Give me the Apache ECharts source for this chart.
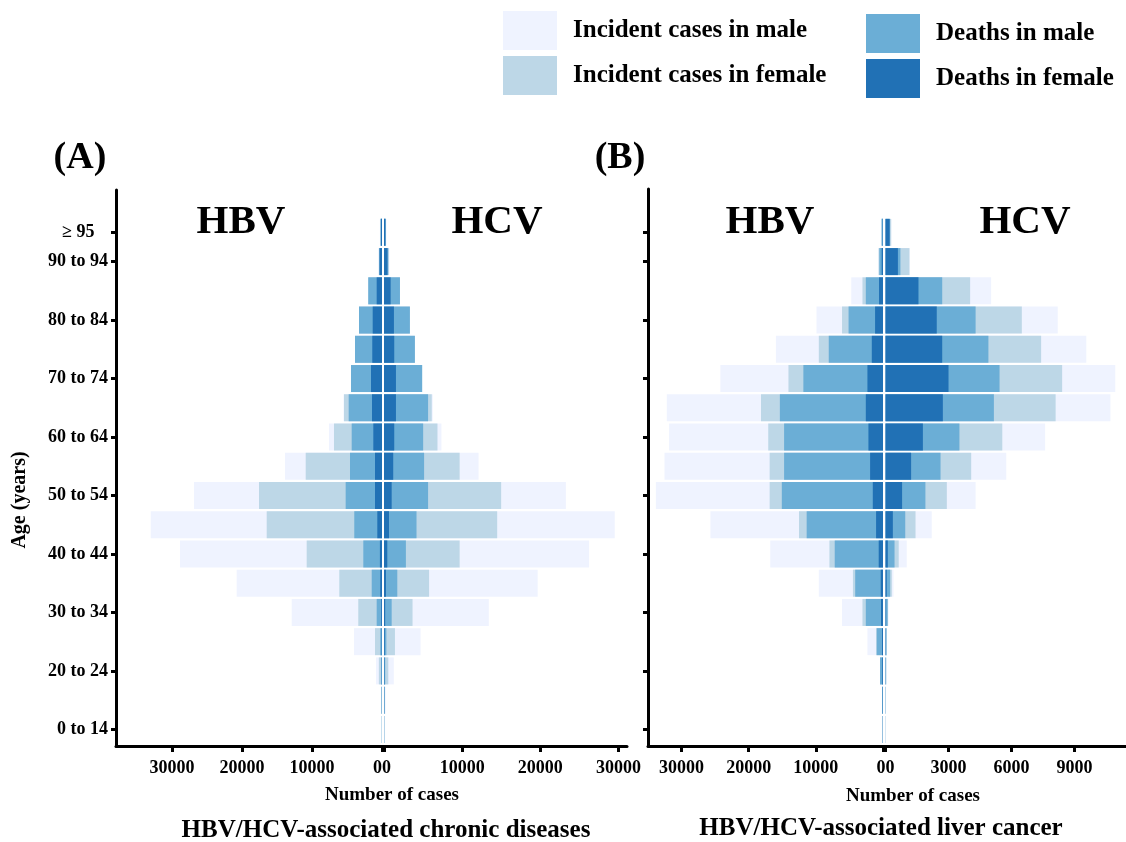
<!DOCTYPE html>
<html>
<head>
<meta charset="utf-8">
<script src="https://cdn.jsdelivr.net/npm/echarts@6/dist/echarts.min.js"></script>
<style>
html, body { margin: 0; padding: 0; background: #fff; }
#main { width: 1126px; height: 842px; }
</style>
</head>
<body>
<div id="main"></div>
<script>
// age groups, bottom to top (last one is an empty slot above the top bar)
var ages = ['0 to 14', '15 to 19', '20 to 24', '25 to 29', '30 to 34', '35 to 39', '40 to 44',
  '45 to 49', '50 to 54', '55 to 59', '60 to 64', '65 to 69', '70 to 74', '75 to 79',
  '80 to 84', '85 to 89', '90 to 94', '≥ 95', ''];

var names = ['Incident cases in male', 'Incident cases in female', 'Deaths in male', 'Deaths in female'];
var colors = ['#eff3ff', '#bdd7e7', '#6baed6', '#2171b5'];

// (A) chronic diseases, HBV (left side)
var chronicHbvIncMale   = [60, 150, 850, 4000, 12900, 20760, 28860, 33040, 26860, 13860, 7570, 5500, 4430, 3860, 3290, 1960, 500, 300];
var chronicHbvIncFemale = [40, 100, 450, 1000, 3390, 6100, 10760, 16470, 17570, 10900, 6860, 5430, 4430, 3860, 3290, 1960, 450, 250];
var chronicHbvDeaMale   = [20, 60, 120, 250, 760, 1470, 2670, 3960, 5190, 4570, 4330, 4760, 4430, 3860, 3290, 1960, 400, 200];
var chronicHbvDeaFemale = [10, 20, 40, 60, 120, 250, 300, 670, 1000, 1000, 1240, 1430, 1570, 1390, 1330, 760, 350, 150];

// (A) chronic diseases, HCV (right side)
var chronicHcvIncMale   = [80, 200, 1250, 4680, 13410, 19660, 26240, 29520, 23270, 12100, 7350, 6240, 4880, 3950, 3310, 2040, 700, 300];
var chronicHcvIncFemale = [50, 120, 550, 1400, 3650, 5770, 9680, 14480, 14990, 9680, 6840, 6110, 4880, 3950, 3310, 2040, 600, 260];
var chronicHcvDeaMale   = [30, 80, 150, 300, 980, 1700, 2800, 4160, 5640, 5130, 5010, 5640, 4880, 3950, 3310, 2040, 550, 220];
var chronicHcvDeaFemale = [10, 30, 60, 100, 150, 250, 420, 640, 980, 1180, 1310, 1530, 1530, 1310, 1270, 850, 450, 180];

// (B) liver cancer, HBV (left side)
var cancerHbvIncMale   = [100, 150, 450, 2320, 6100, 9560, 16790, 25700, 33830, 32540, 31860, 32200, 24220, 15950, 9900, 4730, 700, 250];
var cancerHbvIncFemale = [80, 130, 440, 1030, 3060, 4480, 7980, 12510, 16880, 16880, 17090, 18170, 14080, 9560, 6100, 3060, 650, 220];
var cancerHbvDeaMale   = [60, 120, 440, 930, 2560, 4140, 7190, 11370, 15070, 14730, 14730, 15360, 11860, 8080, 5130, 2560, 550, 200];
var cancerHbvDeaFemale = [20, 60, 120, 150, 300, 340, 640, 1030, 1520, 1920, 2170, 2560, 2320, 1670, 1180, 590, 200, 50];

// (B) liver cancer, HCV (right side)
var cancerHcvIncMale   = [10, 20, 40, 60, 150, 380, 1010, 2200, 4290, 5750, 7600, 10710, 10940, 9560, 8200, 5030, 1150, 280];
var cancerHcvIncFemale = [8, 15, 35, 55, 120, 300, 630, 1430, 2920, 4080, 5560, 8100, 8410, 7410, 6490, 4030, 1140, 270];
var cancerHcvDeaMale   = [6, 12, 30, 50, 100, 220, 430, 940, 1900, 2620, 3520, 5160, 5430, 4900, 4290, 2700, 710, 200];
var cancerHcvDeaFemale = [2, 4, 8, 15, 30, 60, 110, 350, 790, 1220, 1780, 2730, 3000, 2700, 2440, 1570, 590, 200];

// tick values
var ticksChronic = [0, 10000, 20000, 30000];
var ticksCancerHcv = [0, 3000, 6000, 9000];

var serif = '"Liberation Serif", "Times New Roman", serif';
var myChart = echarts.init(document.getElementById('main'), null, { renderer: 'canvas' });

function showAge(index) {
  return (index % 2 === 0 && index <= 16) || index === 17;
}

// backdrop grid: only draws the black axis lines
function lineAxes(idx) {
  return {
    x: { type: 'value', gridIndex: idx, min: 0, max: 1, axisLine: { show: true, lineStyle: { color: '#000', width: 3 } },
         axisTick: { show: false }, axisLabel: { show: false }, splitLine: { show: false } },
    y: { type: 'value', gridIndex: idx, min: 0, max: 1, axisLine: { show: true, lineStyle: { color: '#000', width: 3 } },
         axisTick: { show: false }, axisLabel: { show: false }, splitLine: { show: false } }
  };
}

function valueAxis(idx, inverse, max, ticks, labels, zeroText) {
  return {
    type: 'value', gridIndex: idx, inverse: inverse, min: 0, max: max, offset: 2, position: 'bottom',
    axisLine: { show: false, onZero: false },
    axisTick: { show: true, length: 6, customValues: ticks, lineStyle: { color: '#000', width: 3 } },
    axisLabel: {
      customValues: labels, margin: 13, color: '#000', fontFamily: serif, fontWeight: 'bold', fontSize: 18,
      formatter: function (v) { return v === 0 ? zeroText : String(v); }
    },
    splitLine: { show: false }
  };
}

function catAxis(idx, withTicks, withLabels) {
  return {
    type: 'category', gridIndex: idx, data: ages, position: 'left',
    axisLine: { show: false, onZero: false },
    axisTick: { show: withTicks, length: 5, alignWithLabel: true, interval: showAge, lineStyle: { color: '#000', width: 3 } },
    axisLabel: {
      show: withLabels, interval: showAge, margin: 8, color: '#000', fontFamily: serif, fontWeight: 'bold', fontSize: 18,
      formatter: function (v) { return v === '≥ 95' ? v + '   ' : v; }
    },
    splitLine: { show: false }
  };
}

function barSeries(idx, arrays) {
  return arrays.map(function (arr, i) {
    return {
      name: names[i], type: 'bar', xAxisIndex: idx, yAxisIndex: idx,
      data: arr, barWidth: 27, barGap: '-100%',
      itemStyle: { color: colors[i] }, silent: true, animation: false
    };
  });
}

var lA = lineAxes(0), lB = lineAxes(3);

var texts = [
  ['(A)', 80, 158, 38], ['(B)', 620, 158, 38],
  ['HBV', 241, 222, 41], ['HCV', 497, 222, 41], ['HBV', 770, 222, 41], ['HCV', 1025, 222, 41],
  ['Number of cases', 392, 795, 19], ['Number of cases', 913, 796, 19],
  ['HBV/HCV-associated chronic diseases', 386, 831, 25], ['HBV/HCV-associated liver cancer', 881, 829, 25]
];
var graphics = texts.map(function (t) {
  return { type: 'text', x: t[1], y: t[2], silent: true,
    style: { text: t[0], textAlign: 'center', textVerticalAlign: 'middle', fill: '#000',
      font: 'bold ' + t[3] + 'px ' + serif } };
});
graphics.push({ type: 'text', x: 20, y: 500, rotation: Math.PI / 2, silent: true,
  style: { text: 'Age (years)', textAlign: 'center', textVerticalAlign: 'middle', fill: '#000',
    font: 'bold 20px ' + serif } });

var legendText = { color: '#000', fontFamily: serif, fontWeight: 'bold', fontSize: 25, padding: [0, 0, 0, 11] };

myChart.setOption({
  animation: false,
  legend: [
    { left: 498, top: 6, padding: 5, orient: 'vertical', icon: 'rect', itemWidth: 54, itemHeight: 39, itemGap: 6,
      selectedMode: false, data: names.slice(0, 2), textStyle: legendText },
    { left: 861, top: 9, padding: 5, orient: 'vertical', icon: 'rect', itemWidth: 54, itemHeight: 39, itemGap: 6,
      selectedMode: false, data: names.slice(2, 4), textStyle: legendText }
  ],
  grid: [
    { left: 116, right: 499, top: 190, bottom: 96 },
    { left: 116, right: 744, top: 188.5, bottom: 98 },
    { left: 384, right: 499, top: 188.5, bottom: 98 },
    { left: 648, right: 0, top: 189, bottom: 96 },
    { left: 648, right: 243, top: 188.5, bottom: 98 },
    { left: 885.5, right: 0, top: 188.5, bottom: 98 }
  ],
  xAxis: [
    lA.x,
    valueAxis(1, true, 38000, ticksChronic, ticksChronic, '00'),
    valueAxis(2, false, 31090, ticksChronic, ticksChronic.slice(1), ''),
    lB.x,
    valueAxis(4, true, 35000, ticksChronic, ticksChronic.slice(1), ''),
    valueAxis(5, false, 11450, ticksCancerHcv, ticksCancerHcv, '00')
  ],
  yAxis: [
    lA.y,
    catAxis(1, true, true),
    catAxis(2, false, false),
    lB.y,
    catAxis(4, true, false),
    catAxis(5, false, false)
  ],
  graphic: graphics,
  series: [].concat(
    barSeries(1, [chronicHbvIncMale, chronicHbvIncFemale, chronicHbvDeaMale, chronicHbvDeaFemale]),
    barSeries(2, [chronicHcvIncMale, chronicHcvIncFemale, chronicHcvDeaMale, chronicHcvDeaFemale]),
    barSeries(4, [cancerHbvIncMale, cancerHbvIncFemale, cancerHbvDeaMale, cancerHbvDeaFemale]),
    barSeries(5, [cancerHcvIncMale, cancerHcvIncFemale, cancerHcvDeaMale, cancerHcvDeaFemale])
  )
});
</script>
</body>
</html>
